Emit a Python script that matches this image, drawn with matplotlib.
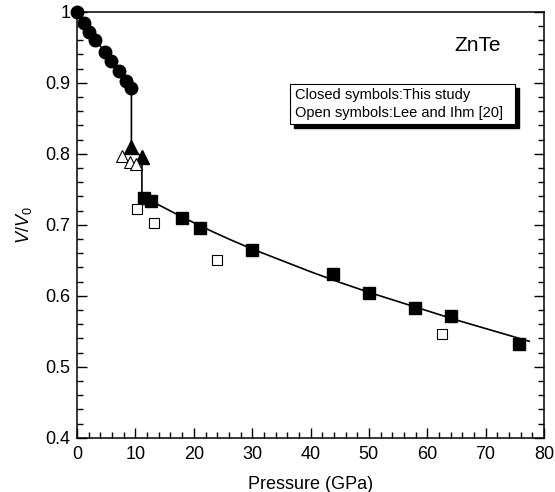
import numpy as np
import matplotlib.pyplot as plt
from matplotlib.patches import Rectangle
from matplotlib.ticker import MultipleLocator

plt.rcParams['font.family'] = ['Liberation Sans', 'DejaVu Sans']
plt.rcParams['mathtext.fontset'] = 'custom'
plt.rcParams['mathtext.it'] = 'Liberation Sans:italic'
plt.rcParams['mathtext.rm'] = 'Liberation Sans'

# this study, ZnTe
p_circle = [0, 1.1, 2.1, 3.1, 4.7, 5.8, 7.1, 8.3, 9.3]
v_circle = [1.0, 0.984, 0.972, 0.961, 0.944, 0.931, 0.916, 0.903, 0.893]
p_tri = [9.3, 11.1]
v_tri = [0.809, 0.795]
p_sq = [11.5, 12.7, 17.9, 21.1, 29.9, 43.9, 50.1, 57.9, 64.1, 75.8]
v_sq = [0.738, 0.733, 0.709, 0.695, 0.664, 0.631, 0.604, 0.583, 0.572, 0.532]

# Lee and Ihm [20]
p_tri_open = [7.7, 9.1, 10.1]
v_tri_open = [0.797, 0.789, 0.786]
p_sq_open = [10.2, 13.2, 24.0, 62.6]
v_sq_open = [0.723, 0.703, 0.651, 0.546]

# fitted curve through the high pressure phase
p_fit = [11.1, 14, 18, 22, 26, 30, 35, 40, 45, 50, 55, 60, 65, 70, 77.5]
v_fit = [0.742, 0.728, 0.711, 0.695, 0.680, 0.666, 0.650, 0.634, 0.619,
         0.605, 0.592, 0.579, 0.566, 0.554, 0.536]

fig = plt.figure(figsize=(5.55, 4.92), dpi=100)
ax = fig.add_axes([0.139, 0.11, 0.841, 0.866])

line_p = p_circle + p_tri + p_fit
line_v = v_circle + v_tri + v_fit
ax.plot(line_p, line_v, color='black', lw=1.2, zorder=2)

ax.plot(p_circle, v_circle, 'o', color='black', ms=9, zorder=3, clip_on=False)
ax.plot(p_tri, v_tri, '^', color='black', ms=10, zorder=3)
ax.plot(p_sq, v_sq, 's', color='black', ms=9, zorder=3)
ax.plot(p_tri_open, v_tri_open, '^', mfc='white', mec='black', mew=0.8, ms=8, zorder=4)
ax.plot(p_sq_open, v_sq_open, 's', mfc='white', mec='black', mew=0.8, ms=7, zorder=4)

ax.set_xlim(0, 80)
ax.set_ylim(0.4, 1.0)
ax.xaxis.set_major_locator(MultipleLocator(10))
ax.xaxis.set_minor_locator(MultipleLocator(2))
ax.yaxis.set_major_locator(MultipleLocator(0.1))
ax.yaxis.set_minor_locator(MultipleLocator(0.02))
ax.set_yticks([0.4, 0.5, 0.6, 0.7, 0.8, 0.9, 1.0])
ax.set_yticklabels(['0.4', '0.5', '0.6', '0.7', '0.8', '0.9', '1'])
ax.tick_params(which='both', direction='in', left=True, right=True, top=False,
               bottom=True, labelsize=13, width=1)
ax.tick_params(which='major', length=7)
ax.tick_params(which='minor', length=4)
ax.tick_params(axis='x', pad=6)
ax.tick_params(axis='y', pad=5)
for s in ax.spines.values():
    s.set_linewidth(1.1)

ax.set_xlabel('Pressure (GPa)', fontsize=13, labelpad=9)
ax.set_ylabel('$V/V_0$', fontsize=13, labelpad=8)

ax.text(68.7, 0.952, 'ZnTe', fontsize=15, ha='center', va='center')

# legend box with drop shadow
ax.add_patch(Rectangle((37.2, 0.836), 38.5, 0.057, facecolor='black',
                       edgecolor='black', zorder=5))
ax.add_patch(Rectangle((36.5, 0.842), 38.5, 0.057, facecolor='white',
                       edgecolor='black', lw=0.8, zorder=6))
ax.text(37.3, 0.883, 'Closed symbols:This study', fontsize=10.5, va='center', zorder=7)
ax.text(37.3, 0.858, 'Open symbols:Lee and Ihm [20]', fontsize=10.5, va='center', zorder=7)

fig.savefig('out.png', dpi=100)
